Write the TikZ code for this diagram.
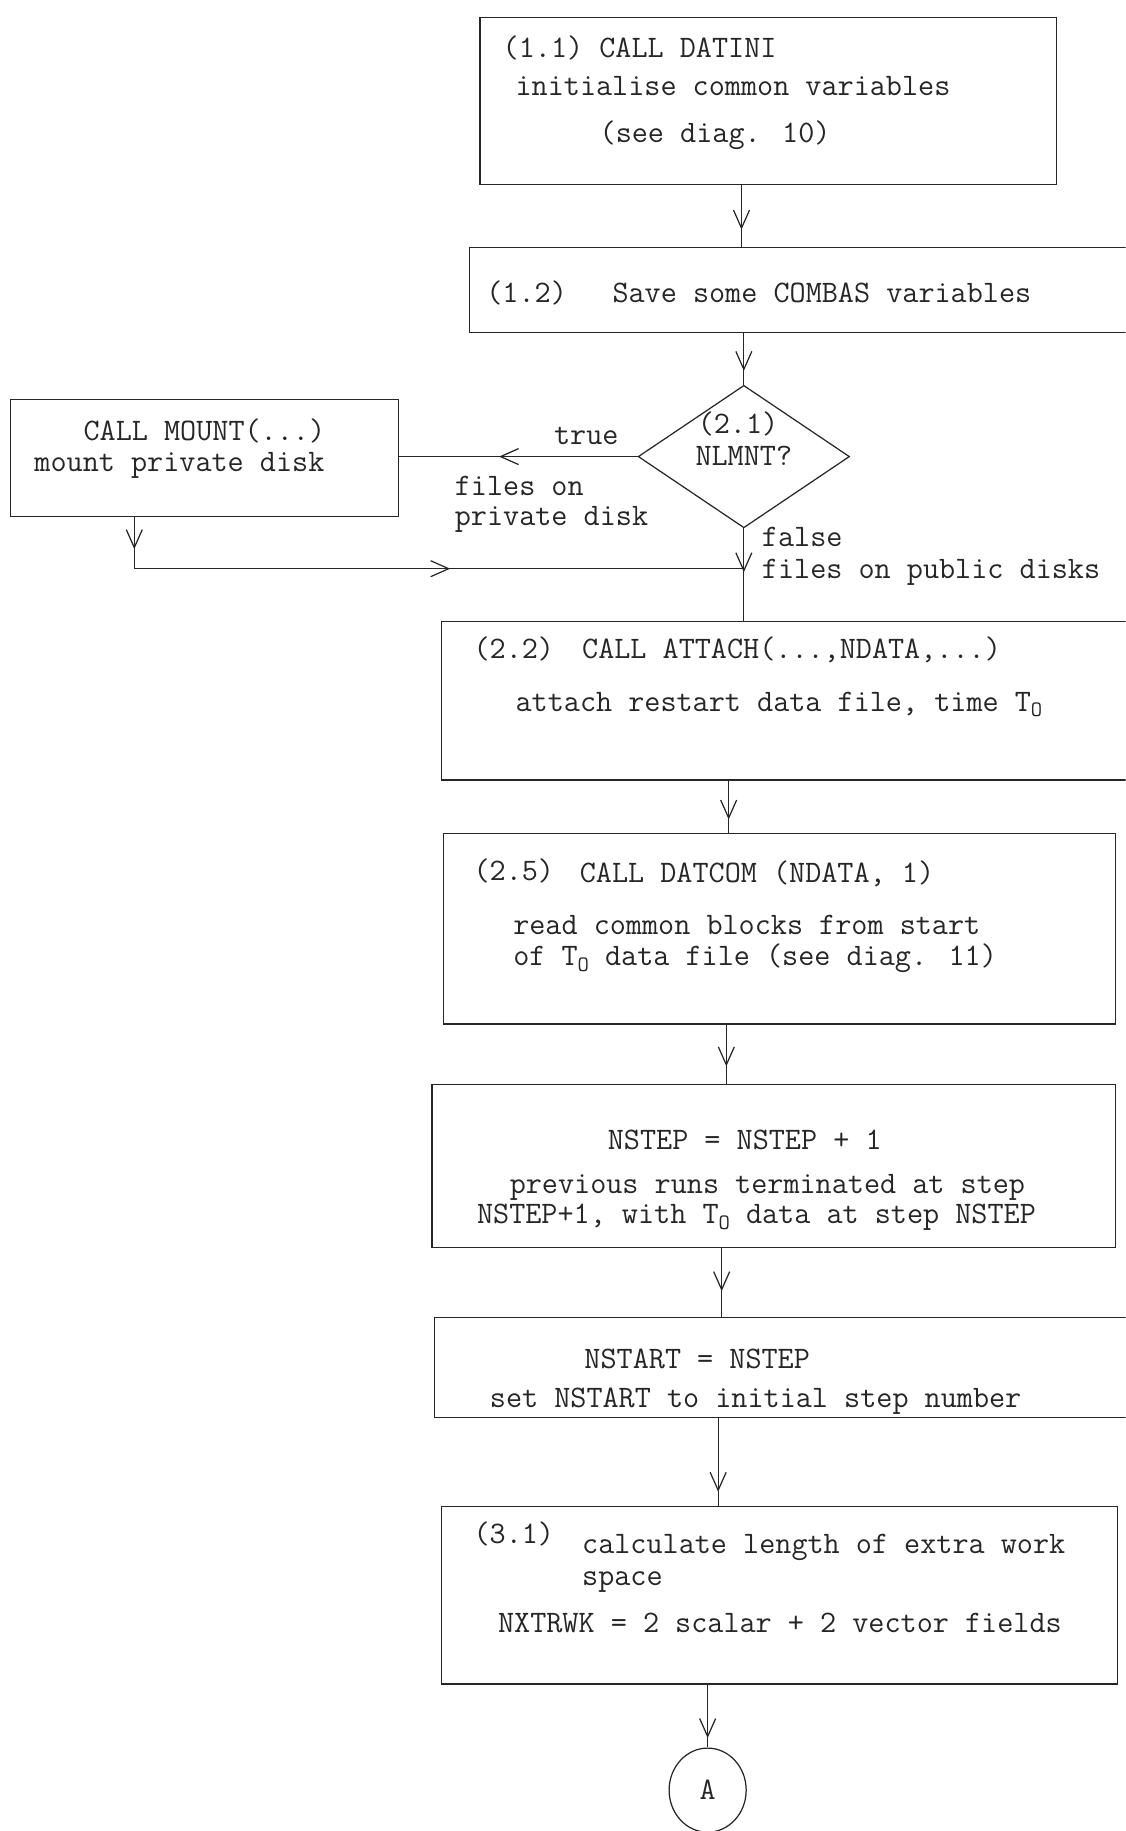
\documentclass[tikz,border=0pt]{standalone}
\usepackage{fontspec}
\usetikzlibrary{arrows.meta,shapes.geometric,decorations.markings}

\tikzset{
  barb/.tip={Straight Barb[length=3.6mm,width=3.2mm]},
  box/.style={draw, rectangle, inner sep=0pt},
  txt/.style={anchor=base west, inner sep=0pt},
  ctxt/.style={anchor=base, inner sep=0pt},
  flow/.style={postaction={decorate}, decoration={markings,
      mark=at position #1 with {\arrow{barb}}}},
  flow/.default=0.72,
  merge/.style={postaction={decorate}, decoration={markings,
      mark=at position 0.049 with {\arrow{barb}},
      mark=at position 0.557 with {\arrow{barb}}}},
}
\newcommand{\To}{T\raisebox{-0.4ex}{\fontsize{12.5}{13}\selectfont O}}

\begin{document}
\begin{tikzpicture}[x=0.02336cm, y=-0.02336cm, line width=0.7pt, black!85,
    font=\fontsize{17.8}{20}\selectfont\ttfamily]
  \def\u{0.02336cm}
  \useasboundingbox (0,0) rectangle (964,1568);
  \clip (0,0) rectangle (964,1568);

  % boxes
  \node[box, minimum width=494*\u, minimum height=143*\u] (b11) at (658,86.5) {};
  \node[box, minimum width=573*\u, minimum height=73*\u] (b12) at (688.5,248.5) {};
  \node[box, minimum width=332*\u, minimum height=100*\u] (mount) at (175,392) {};
  \node[draw, diamond, inner sep=0pt, minimum width=181*\u, minimum height=122*\u] (dia) at (637,391) {};
  \node[box, minimum width=597*\u, minimum height=136*\u] (b22) at (676.5,600) {};
  \node[box, minimum width=575*\u, minimum height=163*\u] (b25) at (667.5,795.5) {};
  \node[box, minimum width=585*\u, minimum height=139*\u] (bns) at (662.5,998.5) {};
  \node[box, minimum width=603*\u, minimum height=86*\u] (bnst) at (673.5,1171) {};
  \node[box, minimum width=579*\u, minimum height=152*\u] (b31) at (667.5,1366) {};
  \node[draw, ellipse, inner sep=0pt, minimum width=66*\u, minimum height=72*\u] (A) at (606,1533) {A};

  % texts
  \node[txt] (t11a) at (430,49) {(1.1) CALL DATINI};
  \node[txt] (t11b) at (441,82) {initialise common variables};
  \node[txt] (t11c) at (513,122) {(see diag. 10)};
  \node[txt] (t12a) at (416,259) {(1.2)};
  \node[txt] (t12b) at (524,259) {Save some COMBAS variables};
  \node[ctxt] (tm1) at (175,377) {CALL MOUNT(...)};
  \node[txt] (tm2) at (29,404) {mount private disk};
  \node[ctxt] (td1) at (632,371) {(2.1)};
  \node[ctxt] (td2) at (637,399) {NLMNT?};
  \node[txt] (ttrue) at (474,381) {true};
  \node[txt] (tpr1) at (389,424) {files on};
  \node[txt] (tpr2) at (389,450) {private disk};
  \node[txt] (tfal) at (652,468) {false};
  \node[txt] (tpub) at (652,495) {files on public disks};
  \node[txt] (t22a) at (405,564) {(2.2)};
  \node[txt] (t22b) at (498,564) {CALL ATTACH(...,NDATA,...)};
  \node[txt] (t22c) at (441,609) {attach restart data file, time \To};
  \node[txt] (t25a) at (405,754) {(2.5)};
  \node[txt] (t25b) at (496,756) {CALL DATCOM (NDATA, 1)};
  \node[txt] (t25c) at (439,800) {read common blocks from start};
  \node[txt] (t25d) at (439,827) {of \To{} data file (see diag. 11)};
  \node[txt] (tns1) at (520,984) {NSTEP = NSTEP + 1};
  \node[txt] (tns2) at (436,1022) {previous runs terminated at step};
  \node[txt] (tns3) at (408,1048) {NSTEP+1, with \To{} data at step NSTEP};
  \node[txt] (tst1) at (500,1172) {NSTART = NSTEP};
  \node[txt] (tst2) at (419,1205) {set NSTART to initial step number};
  \node[txt] (t31a) at (405,1322) {(3.1)};
  \node[txt] (t31b) at (498,1330) {calculate length of extra work};
  \node[txt] (t31c) at (498,1358) {space};
  \node[txt] (t31d) at (426,1398) {NXTRWK = 2 scalar + 2 vector fields};

  % connectors
  \coordinate (jn) at (636,487);
  \draw[flow=0.72] (b11.south -| 635,0) -- (b12.north -| 635,0);
  \draw[flow=0.73] (b12.south -| dia.north) -- (dia.north);
  \draw[flow=0.58] (dia.west) -- (dia.west -| mount.east);
  \draw[merge] (mount.south -| 115,0) |- (jn);
  \draw[flow=0.475] (dia.south) -- (dia.south |- b22.north);
  \draw[flow=0.74] (b22.south -| 624,0) -- (b25.north -| 624,0);
  \draw[flow=0.70] (b25.south -| 622,0) -- (bns.north -| 622,0);
  \draw[flow=0.63] (bns.south -| 618,0) -- (bnst.north -| 618,0);
  \draw[flow=0.84] (bnst.south -| 615,0) -- (b31.north -| 615,0);
  \draw[flow=0.85] (b31.south -| A.north) -- (A.north);
\end{tikzpicture}
\end{document}
